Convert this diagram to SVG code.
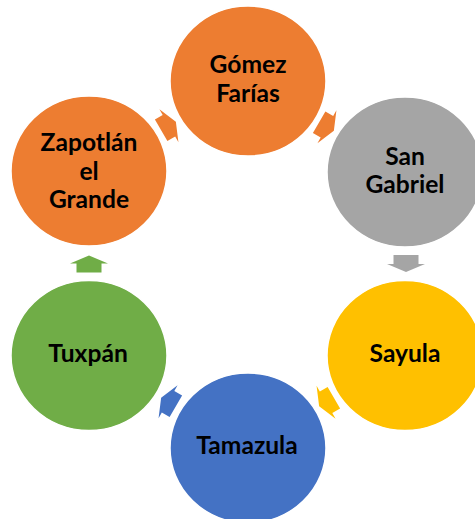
<svg xmlns="http://www.w3.org/2000/svg" width="475" height="519" viewBox="0 0 475 519">
<style>
.n{stroke:#fff;stroke-width:1.5}
.t{font-family:Lato,"Open Sans","Liberation Sans",sans-serif;font-weight:700;font-size:24.6px;fill:#000;text-anchor:middle}
</style>
<defs>
<polygon id="arr" points="-8.5,-12.5 0.5,-12.5 0.5,-19 8.5,0 0.5,19 0.5,12.5 -8.5,12.5"/>
</defs>
<rect width="475" height="519" fill="#fff"/>
<g id="connectors">
<use href="#arr" fill="#ED7D31" transform="translate(168.5,126) rotate(-30)"/>
<use href="#arr" fill="#ED7D31" transform="translate(326.5,126.5) rotate(30)"/>
<use href="#arr" fill="#A5A5A5" transform="translate(406,263.5) rotate(90)"/>
<use href="#arr" fill="#FFC000" transform="translate(326.5,402) rotate(150)"/>
<use href="#arr" fill="#4472C4" transform="translate(168.5,402) rotate(210)"/>
<use href="#arr" fill="#70AD47" transform="translate(89,264) rotate(270)"/>
</g>
<g id="gomez">
<ellipse class="n" cx="248" cy="81" rx="78" ry="75" fill="#ED7D31"/>
<text class="t" x="248" y="73">Gómez</text>
<text class="t" x="248" y="102">Farías</text>
</g>
<g id="sangabriel">
<ellipse class="n" cx="405" cy="172" rx="78" ry="75" fill="#A5A5A5"/>
<text class="t" x="405" y="165">San</text>
<text class="t" x="405" y="193">Gabriel</text>
</g>
<g id="sayula">
<ellipse class="n" cx="405" cy="355.5" rx="78" ry="75" fill="#FFC000"/>
<text class="t" x="405" y="362">Sayula</text>
</g>
<g id="tamazula">
<ellipse class="n" cx="248" cy="448" rx="78" ry="75" fill="#4472C4"/>
<text class="t" x="247" y="454">Tamazula</text>
</g>
<g id="tuxpan">
<ellipse class="n" cx="89" cy="355.5" rx="78" ry="75" fill="#70AD47"/>
<text class="t" x="88" y="362">Tuxpán</text>
</g>
<g id="zapotlan">
<ellipse class="n" cx="89" cy="171" rx="78" ry="75" fill="#ED7D31"/>
<text class="t" x="89" y="151">Zapotlán</text>
<text class="t" x="89" y="180">el</text>
<text class="t" x="89" y="208">Grande</text>
</g>
</svg>
